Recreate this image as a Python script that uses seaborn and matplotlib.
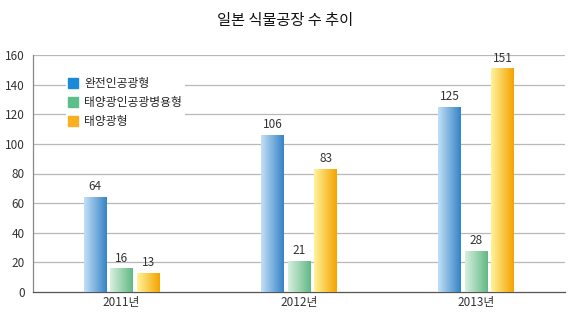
import numpy as np
import pandas as pd
import matplotlib
matplotlib.use("Agg")
import matplotlib.pyplot as plt
from matplotlib.colors import LinearSegmentedColormap
from matplotlib.lines import Line2D
import seaborn as sns

years = ["2011년", "2012년", "2013년"]
series = ["완전인공광형", "태양광인공광병용형", "태양광형"]
full_artificial = [64, 106, 125]
combined = [16, 21, 28]
solar = [13, 83, 151]
y_ticks = [0, 20, 40, 60, 80, 100, 120, 140, 160]

df = pd.DataFrame({
    "year": years * 3,
    "type": [series[0]] * 3 + [series[1]] * 3 + [series[2]] * 3,
    "value": full_artificial + combined + solar,
})

sns.set_theme(style="white")
plt.rcParams["font.family"] = ["Noto Sans CJK KR", "DejaVu Sans"]

legend_colors = ["#1a8ad8", "#5cbf8a", "#f9b020"]
grad_pairs = [("#c2e0f6", "#3683c6"), ("#d8efdf", "#62b984"), ("#fff39a", "#f5a300")]

fig = plt.figure(figsize=(5.8, 3.25), dpi=100)
ax = fig.add_axes([33 / 580, 1 - 292 / 325, 532 / 580, 237 / 325])

sns.barplot(data=df, x="year", y="value", hue="type", order=years, hue_order=series,
            palette=legend_colors, width=0.45, gap=0.14, ax=ax, legend=False,
            errorbar=None, saturation=1)

grad = np.linspace(0, 1, 64).reshape(1, -1)
for i, cont in enumerate(ax.containers):
    cmap = LinearSegmentedColormap.from_list(f"g{i}", list(grad_pairs[i]))
    for bar, val in zip(cont.patches, [full_artificial, combined, solar][i]):
        x0, y0 = bar.get_x(), bar.get_y()
        w, h = bar.get_width(), bar.get_height()
        bar.set_facecolor("none")
        bar.set_edgecolor("none")
        im = ax.imshow(grad, cmap=cmap, extent=[x0, x0 + w, y0, y0 + h],
                       aspect="auto", zorder=3, interpolation="bilinear")
        im.set_clip_path(bar)
        ax.text(x0 + w / 2, y0 + h + 2.5, str(val), ha="center", va="bottom",
                fontsize=8.5, color="#333333", zorder=4)

ax.set_xlim(-0.5, 2.5)
ax.set_ylim(0, 160)
ax.set_yticks(y_ticks)
ax.set_xticks(range(3))
ax.set_xticklabels(years)
ax.set_xticks([-0.5, 0.5, 1.5, 2.5], minor=True)
ax.tick_params(axis="x", which="major", length=0, labelsize=8.5, labelcolor="#333333", pad=3)
ax.tick_params(axis="x", which="minor", length=5, width=0.8, color="#555555", direction="out")
ax.tick_params(axis="y", length=4, width=0.8, color="#777777", direction="out",
               labelsize=8.5, labelcolor="#333333", pad=2)
ax.set_xlabel("")
ax.set_ylabel("")

for y in y_ticks[1:]:
    ax.axhline(y, color="#b8b8b8", linewidth=0.9, zorder=1)

for s in ["top", "right"]:
    ax.spines[s].set_visible(False)
ax.spines["left"].set_color("#888888")
ax.spines["left"].set_linewidth(0.9)
ax.spines["bottom"].set_color("#555555")
ax.spines["bottom"].set_linewidth(0.9)

handles = [Line2D([0], [0], marker="s", linestyle="none", markersize=6.5,
                  markerfacecolor=c, markeredgecolor=c) for c in legend_colors]
leg = ax.legend(handles, series, loc="upper left", bbox_to_anchor=(0.05, 0.94),
                frameon=True, fontsize=8.5, handlelength=0.8, handletextpad=0.6,
                labelspacing=0.5, borderpad=0.2)
leg.get_frame().set_facecolor("white")
leg.get_frame().set_edgecolor("none")
leg.get_frame().set_alpha(1)
leg.set_zorder(5)

fig.text(285 / 580, 1 - 20 / 325, "일본 식물공장 수 추이", ha="center", va="center",
         fontsize=11, color="#111111", fontweight="medium")

fig.savefig("out.png", dpi=100)
